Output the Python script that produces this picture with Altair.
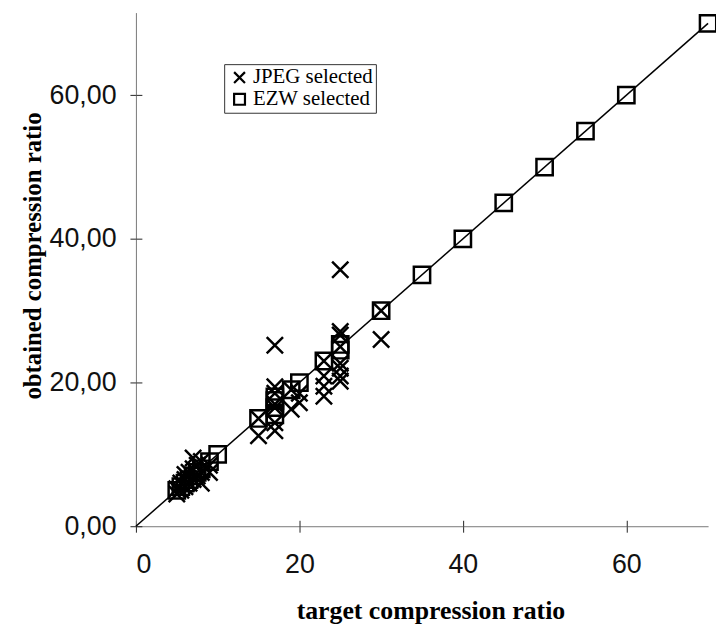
import altair as alt
import pandas as pd

jpeg_x = [5, 5, 5.5, 5.5, 6, 6, 6, 6.5, 6.5, 7, 7, 7, 7.5, 7.5, 8, 8, 8, 9, 9,
          15, 15, 17, 17, 17, 17, 17, 17, 17, 19, 19, 20, 20, 23, 23, 23, 23,
          25, 25, 25, 25, 25, 25, 25, 25, 30, 30]
jpeg_y = [4.5, 5.2, 5.0, 6.0, 5.5, 6.5, 7.2, 6.0, 7.5, 6.5, 8.0, 9.5, 7.0, 8.5, 6.0, 7.5, 9.0, 7.5, 8.5,
          12.6, 15.0, 13.3, 14.4, 16.5, 17.0, 18.5, 19.4, 25.2, 16.3, 19.0, 17.2, 18.5, 18.1, 19.5, 20.9, 23.0,
          20.2, 20.9, 22.0, 22.7, 25.0, 26.6, 27.1, 35.7, 26.0, 30.0]

ezw_x = [5, 5.5, 6, 6.5, 7, 7.5, 8, 9, 10, 15, 17, 17, 17, 17, 19, 20, 23, 25, 25,
         30, 35, 40, 45, 50, 55, 60, 70]
ezw_y = [5, 5.5, 6, 6.5, 7, 7.5, 8, 9, 10, 15, 15.5, 16.5, 17.5, 18, 19, 20, 23, 24.5, 25.3,
         30, 35, 40, 45, 50, 55, 60, 70]

line_x = [0, 70]
line_y = [0, 70]

tick_values = [0, 20, 40, 60]
series = ["JPEG selected", "EZW selected"]

df = pd.concat([
    pd.DataFrame({"x": jpeg_x, "y": jpeg_y, "type": series[0]}),
    pd.DataFrame({"x": ezw_x, "y": ezw_y, "type": series[1]}),
])
line_df = pd.DataFrame({"x": line_x, "y": line_y})

xpath = "M-1,-1L1,1M1,-1L-1,1"

xs = alt.Scale(domain=[0, 70], nice=False, zero=False)
ys = alt.Scale(domain=[0, 71.5], nice=False, zero=False)

x_axis = alt.Axis(values=tick_values, title="target compression ratio", grid=False, orient="bottom",
                  labelFont="Liberation Sans", labelFontSize=27, labelColor="#111",
                  labelPadding=20, tickSize=6, tickColor="#222", domainColor="#777",
                  titleFont="Liberation Serif", titleFontWeight="bold", titleFontSize=26,
                  titlePadding=20, titleColor="black", titleX=297)
y_axis = alt.Axis(values=tick_values, title="obtained compression ratio", grid=False, orient="left",
                  labelExpr="replace(format(datum.value, '.2f'), '.', ',')",
                  labelFont="Liberation Sans", labelFontSize=27, labelColor="#111",
                  labelPadding=14, tickSize=6, tickColor="#222", domainColor="#777",
                  titleFont="Liberation Serif", titleFontWeight="bold", titleFontSize=25,
                  titlePadding=4, titleColor="black", titleY=245)

x_in = alt.Axis(values=tick_values, title=None, grid=False, orient="bottom", offset=-6,
                labels=False, domain=False, tickSize=6, tickColor="#222")
y_in = alt.Axis(values=tick_values, title=None, grid=False, orient="left", offset=-6,
                labels=False, domain=False, tickSize=6, tickColor="#222")

line = alt.Chart(line_df).mark_line(color="black", strokeWidth=1.5).encode(
    x=alt.X("x:Q", scale=xs, axis=x_axis),
    y=alt.Y("y:Q", scale=ys, axis=y_axis),
)

inner_ticks = alt.Chart(line_df).mark_line(opacity=0).encode(
    x=alt.X("x:Q", scale=xs, axis=x_in),
    y=alt.Y("y:Q", scale=ys, axis=y_in),
)

pts = alt.Chart(df).mark_point(filled=False, color="black", strokeWidth=2.5, size=270, opacity=1).encode(
    x=alt.X("x:Q", scale=xs, axis=None),
    y=alt.Y("y:Q", scale=ys, axis=None),
    shape=alt.Shape("type:N", scale=alt.Scale(domain=series, range=[xpath, "square"]),
                    legend=alt.Legend(title=None, orient="none", legendX=89, legendY=52,
                                      labelFont="Liberation Serif", labelFontSize=21,
                                      labelColor="black", symbolSize=120, symbolStrokeWidth=2.2,
                                      symbolStrokeColor="black", strokeColor="#333",
                                      fillColor="white", padding=3, rowPadding=0,
                                      labelOffset=3, symbolOffset=2)),
)

chart = alt.layer(line, inner_ticks, pts).resolve_axis(x="independent", y="independent").properties(
    width=577, height=518,
    autosize=alt.AutoSizeParams(type="none"),
    padding={"left": 129, "top": 2, "right": 8, "bottom": 100},
).configure_view(stroke=None)

chart.save("out.html", embed_options={"renderer": "svg", "actions": False})
